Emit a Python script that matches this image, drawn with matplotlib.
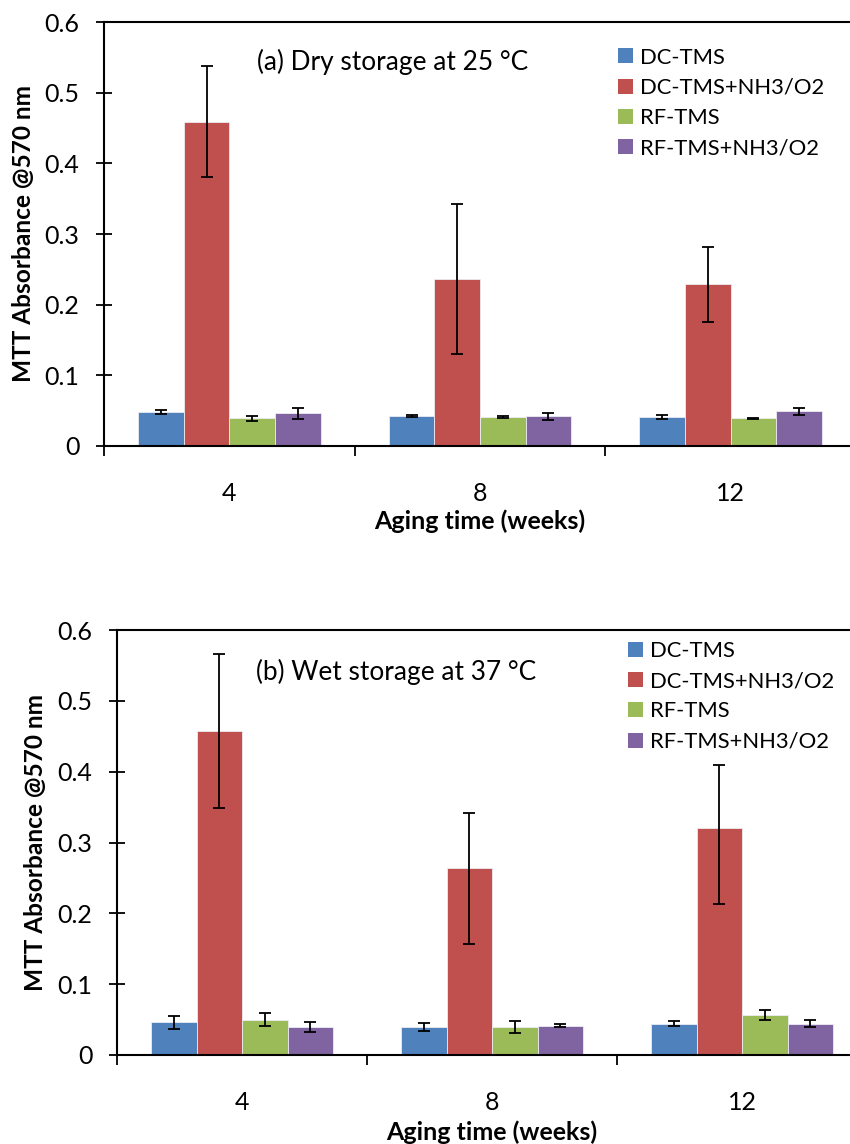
import numpy as np
import matplotlib
matplotlib.use("Agg")
import matplotlib.pyplot as plt
from matplotlib.patches import Patch

plt.rcParams['font.family'] = ['Lato', 'DejaVu Sans']

# data
weeks = ['4', '8', '12']
series = ['DC-TMS', 'DC-TMS+NH3/O2', 'RF-TMS', 'RF-TMS+NH3/O2']
colors = ['#4F81BD', '#C0504D', '#9BBB59', '#8064A2']

# (a) dry storage at 25 C
dry_dc = [0.048, 0.0425, 0.041]
dry_dc_nh = [0.459, 0.237, 0.229]
dry_rf = [0.039, 0.041, 0.039]
dry_rf_nh = [0.046, 0.042, 0.049]
dry_dc_err = [0.003, 0.002, 0.0025]
dry_dc_nh_err = [0.079, 0.106, 0.053]      # upper
dry_dc_nh_err_lo = [0.079, 0.107, 0.053]   # lower
dry_rf_err = [0.003, 0.001, 0.001]
dry_rf_nh_err = [0.0075, 0.005, 0.005]

# (b) wet storage at 37 C
wet_dc = [0.0463, 0.0397, 0.0444]
wet_dc_nh = [0.457, 0.264, 0.321]
wet_rf = [0.050, 0.0397, 0.0562]
wet_rf_nh = [0.0397, 0.0416, 0.0439]
wet_dc_err = [0.0094, 0.0052, 0.003]
wet_dc_nh_err = [0.109, 0.078, 0.088]      # upper
wet_dc_nh_err_lo = [0.108, 0.107, 0.108]   # lower
wet_rf_err = [0.0092, 0.0087, 0.007]
wet_rf_nh_err = [0.0069, 0.0021, 0.005]

fig = plt.figure(figsize=(8.5, 11.44), dpi=100)


# axes placed by pixel edges (left, top, right, bottom)
def pix_axes(l, t, r, b):
    W, H = 850.0, 1144.0
    return fig.add_axes([l / W, 1 - b / H, (r - l) / W, (b - t) / H])


ax1 = pix_axes(104, 22, 856, 446)
ax2 = pix_axes(117, 630, 867, 1055)


def draw(ax, vals, errs, title, tx, ty, leg_x, leg_y, xl_y, yl_x):
    x = np.arange(len(weeks))
    w = 0.182
    for i, (v, e) in enumerate(zip(vals, errs)):
        ax.bar(x + (i - 1.5) * w, v, w, color=colors[i], edgecolor='#ececf2',
               linewidth=0.6, yerr=e, ecolor='black', capsize=4.6,
               error_kw=dict(elinewidth=1.3, capthick=1.3), zorder=2)
    ax.set_xlim(-0.5, 2.5)
    ax.set_ylim(0, 0.6)
    ax.set_yticks(np.arange(0, 0.61, 0.1))
    ax.set_yticklabels(['0', '0.1', '0.2', '0.3', '0.4', '0.5', '0.6'])
    ax.set_xticks(x)
    ax.set_xticklabels(weeks)
    ax.set_xticks([-0.5, 0.5, 1.5, 2.5], minor=True)
    ax.tick_params(axis='x', which='major', length=0, pad=26, labelsize=18)
    ax.tick_params(axis='x', which='minor', length=7, width=1.3, direction='out')
    ax.tick_params(axis='y', length=11.5, width=1.3, direction='inout', pad=12, labelsize=18)
    for s in ['left', 'bottom', 'top']:
        ax.spines[s].set_linewidth(1.5)
    ax.spines['right'].set_visible(False)
    ax.set_ylabel('MTT Absorbance @570 nm', fontsize=17.6, fontweight='bold', va='center')
    ax.yaxis.set_label_coords(yl_x, 0.5)
    ax.set_xlabel('Aging time (weeks)', fontsize=18, fontweight='bold', va='center')
    ax.xaxis.set_label_coords(0.5, xl_y)
    ax.text(tx, ty, title, transform=ax.transAxes, fontsize=18.9, ha='left', va='center')
    handles = [Patch(facecolor=c, edgecolor='none') for c in colors]
    ax.legend(handles, series, loc='upper left', bbox_to_anchor=(leg_x, leg_y),
              frameon=False, fontsize=15.8, handlelength=0.68, handleheight=0.68,
              handletextpad=0.32, labelspacing=0.47, borderaxespad=0, borderpad=0)


draw(ax1, [dry_dc, dry_dc_nh, dry_rf, dry_rf_nh],
     [dry_dc_err, [dry_dc_nh_err_lo, dry_dc_nh_err], dry_rf_err, dry_rf_nh_err],
     '(a) Dry storage at 25 °C', 0.2035, 0.9057, 0.683, 0.9396, -0.1785, -0.1077)
draw(ax2, [wet_dc, wet_dc_nh, wet_rf, wet_rf_nh],
     [wet_dc_err, [wet_dc_nh_err_lo, wet_dc_nh_err], wet_rf_err, wet_rf_nh_err],
     '(b) Wet storage at 37 °C', 0.1853, 0.9019, 0.681, 0.9746, -0.1805, -0.108)

fig.savefig('out.png', dpi=100)
